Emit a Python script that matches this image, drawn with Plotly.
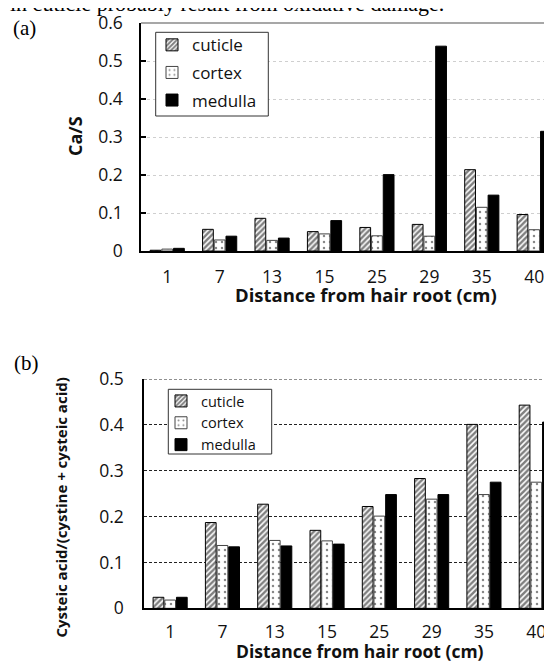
import plotly.graph_objects as go

# ---------------- data ----------------
distances = ["1", "7", "13", "15", "25", "29", "35", "40"]

ca_s_cuticle = [0.002, 0.057, 0.086, 0.051, 0.062, 0.070, 0.214, 0.096]
ca_s_cortex = [0.005, 0.029, 0.028, 0.045, 0.040, 0.039, 0.115, 0.056]
ca_s_medulla = [0.007, 0.039, 0.034, 0.080, 0.201, 0.539, 0.147, 0.315]

ox_cuticle = [0.024, 0.187, 0.227, 0.170, 0.222, 0.283, 0.401, 0.443]
ox_cortex = [0.018, 0.137, 0.148, 0.147, 0.201, 0.238, 0.248, 0.275]
ox_medulla = [0.024, 0.134, 0.136, 0.140, 0.248, 0.248, 0.275, 0.406]

series_names = ["cuticle", "cortex", "medulla"]
a_ticks = [0, 0.1, 0.2, 0.3, 0.4, 0.5, 0.6]
a_ticklabels = ["0", "0.1", "0.2", "0.3", "0.4", "0.5", "0.6"]
b_ticks = [0, 0.1, 0.2, 0.3, 0.4, 0.5]
b_ticklabels = ["0", "0.1", "0.2", "0.3", "0.4", "0.5"]

W, H = 552, 668
OFF = 8  # the page places the figure 8px from the window's top-left corner
FONT = "Open Sans, Lato, sans-serif"
SERIF = "Liberation Serif, Times New Roman, serif"
TXT = "#111111"


def px_x(x):
    return (x - OFF) / W


def px_y(y):
    return (H - (y - OFF)) / H


styles = {
    "cuticle": dict(color="white", pattern=dict(shape="/", fgcolor="black", bgcolor="white", size=4, solidity=0.62),
                    line=dict(color="black", width=1)),
    "cortex": dict(color="white", pattern=dict(shape=".", fgcolor="#111111", bgcolor="white", size=6, solidity=0.13),
                   line=dict(color="#444444", width=1)),
    "medulla": dict(color="black", line=dict(color="black", width=1)),
}

fig = go.Figure()

for name, vals in zip(series_names, [ca_s_cuticle, ca_s_cortex, ca_s_medulla]):
    fig.add_trace(go.Bar(x=distances, y=vals, name=name, marker=styles[name],
                         xaxis="x", yaxis="y", legend="legend", legendgroup="a" + name,
                         offsetgroup=name))

for name, vals in zip(series_names, [ox_cuticle, ox_cortex, ox_medulla]):
    fig.add_trace(go.Bar(x=distances, y=vals, name=name, marker=styles[name],
                         xaxis="x2", yaxis="y2", legend="legend2", legendgroup="b" + name,
                         offsetgroup=name))

tickfont = dict(family=FONT, size=17.5, color=TXT)

# plot-area edges (window pixels)
A_LEFT, A_TOP, A_BOTTOM = 141, 23, 251
B_LEFT, B_TOP, B_BOTTOM = 144, 379, 608.3
A_BAND, B_BAND = 52.43, 52.3
a_right_cat = -0.5 + (W - A_LEFT) / A_BAND
b_right_cat = -0.5 + (W - B_LEFT) / B_BAND

fig.update_layout(
    width=W, height=H,
    margin=dict(l=0, r=0, t=0, b=0, autoexpand=False),
    paper_bgcolor="white", plot_bgcolor="white",
    barmode="group", bargap=0.33, bargroupgap=0.08,
    font=dict(family=FONT, size=16, color=TXT),
    xaxis=dict(domain=[px_x(A_LEFT), px_x(W)], range=[-0.5, a_right_cat], type="category",
               showline=True, linecolor="black", linewidth=1.5, ticks="",
               showgrid=False, tickfont=tickfont, ticklabelstandoff=9,
               automargin=False, anchor="y"),
    yaxis=dict(domain=[px_y(A_BOTTOM), px_y(A_TOP)], range=[0, 0.6],
               tickvals=a_ticks, ticktext=a_ticklabels,
               showline=True, linecolor="black", linewidth=1.5,
               ticks="inside", ticklen=5, tickcolor="black", tickwidth=1.5,
               showgrid=True, gridcolor="#cfcfcf", griddash="dot", gridwidth=1,
               zeroline=False, tickfont=tickfont, ticklabelstandoff=13,
               automargin=False, anchor="x"),
    xaxis2=dict(domain=[px_x(B_LEFT), px_x(W)], range=[-0.5, b_right_cat], type="category",
                showline=True, linecolor="black", linewidth=1.5, ticks="",
                showgrid=False, tickfont=tickfont, ticklabelstandoff=7,
                automargin=False, anchor="y2"),
    yaxis2=dict(domain=[px_y(B_BOTTOM), px_y(B_TOP)], range=[0, 0.5],
                tickvals=b_ticks, ticktext=b_ticklabels,
                showline=True, linecolor="black", linewidth=1.5, ticks="",
                showgrid=True, gridcolor="#222222", griddash="3px,2px", gridwidth=1,
                zeroline=False, tickfont=tickfont, ticklabelstandoff=15,
                automargin=False, anchor="x2"),
    legend=dict(x=px_x(152), y=px_y(27.3), xanchor="left", yanchor="top",
                bgcolor="rgba(0,0,0,0)", borderwidth=0,
                font=dict(family=FONT, size=17, color=TXT),
                tracegroupgap=2.5, traceorder="grouped"),
    legend2=dict(x=px_x(161), y=px_y(385), xanchor="left", yanchor="top",
                 bgcolor="rgba(0,0,0,0)", borderwidth=0,
                 font=dict(family=FONT, size=14.5, color=TXT),
                 tracegroupgap=0, traceorder="grouped"),
    showlegend=True,
)

# top border of panel (a) plot area
fig.add_shape(type="line", xref="paper", yref="paper",
              x0=px_x(A_LEFT), x1=px_x(W), y0=px_y(A_TOP), y1=px_y(A_TOP),
              line=dict(color="#8a8a8a", width=1.5))
# top dashed line of panel (b) at 0.5
fig.add_shape(type="line", xref="x2 domain", yref="y2",
              x0=0, x1=1, y0=0.5, y1=0.5,
              line=dict(color="#222222", width=1.2, dash="3px,2px"))
# legend boxes
fig.add_shape(type="rect", xref="paper", yref="paper", layer="above",
              x0=px_x(155.7), x1=px_x(268.3), y0=px_y(116), y1=px_y(32.3),
              fillcolor="white", line=dict(color="#333333", width=1))
fig.add_shape(type="rect", xref="paper", yref="paper", layer="above",
              x0=px_x(168.3), x1=px_x(271.7), y0=px_y(454), y1=px_y(389.3),
              fillcolor="white", line=dict(color="#333333", width=1))

ann = [
    dict(text="in cuticle probably result from oxidative damage.", x=px_x(8), y=px_y(3),
         xanchor="left", yanchor="middle", font=dict(family=SERIF, size=22, color="black")),
    dict(text="(a)", x=px_x(24.5), y=px_y(28), xanchor="center", yanchor="middle",
         font=dict(family=SERIF, size=21, color="black")),
    dict(text="(b)", x=px_x(26.5), y=px_y(363), xanchor="center", yanchor="middle",
         font=dict(family=SERIF, size=21, color="black")),
    dict(text="<b>Distance from hair root (cm)</b>", x=px_x(366), y=px_y(294),
         xanchor="center", yanchor="middle", font=dict(family=FONT, size=18.5, color=TXT)),
    dict(text="<b>Distance from hair root (cm)</b>", x=px_x(360), y=px_y(651),
         xanchor="center", yanchor="middle", font=dict(family=FONT, size=17.5, color=TXT)),
    dict(text="<b>Ca/S</b>", x=px_x(75), y=px_y(136), textangle=-90,
         xanchor="center", yanchor="middle", font=dict(family=FONT, size=18, color=TXT)),
    dict(text="<b>Cysteic acid/(cystine + cysteic acid)</b>", x=px_x(60), y=px_y(507.5),
         textangle=-90, xanchor="center", yanchor="middle",
         font=dict(family=FONT, size=15, color=TXT)),
]
for a in ann:
    fig.add_annotation(xref="paper", yref="paper", showarrow=False, **a)

fig.write_html("out.html")
